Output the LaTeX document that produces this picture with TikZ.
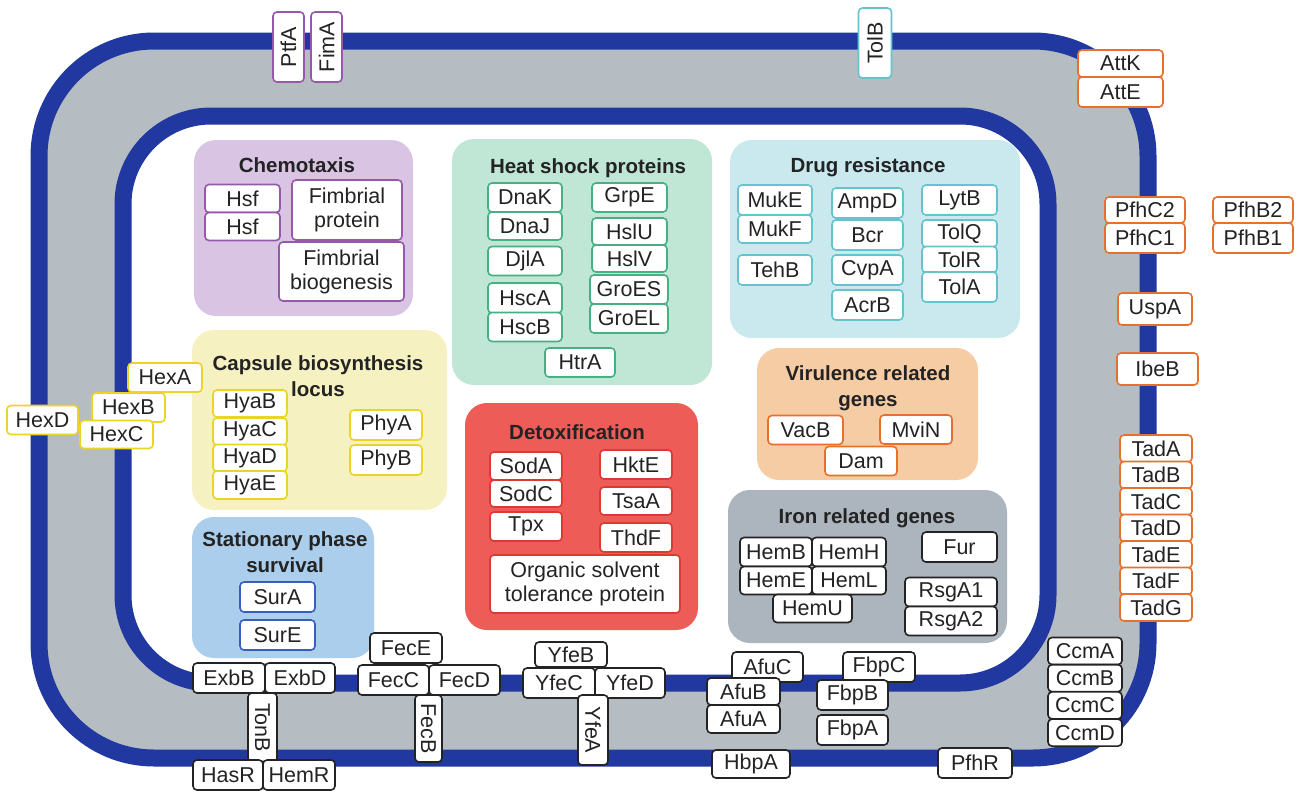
\documentclass[tikz,border=0pt]{standalone}
\usepackage{fontspec}
\setmainfont{Liberation Sans}
\usepackage{tikz}
\usetikzlibrary{positioning}
\definecolor{memb}{RGB}{33,56,160}
\definecolor{peri}{RGB}{182,189,194}
\definecolor{txt}{RGB}{35,35,35}
\definecolor{chemfill}{RGB}{218,196,228}
\definecolor{chemline}{RGB}{150,88,170}
\definecolor{heatfill}{RGB}{192,230,213}
\definecolor{heatline}{RGB}{72,175,132}
\definecolor{drugfill}{RGB}{202,233,239}
\definecolor{drugline}{RGB}{100,195,205}
\definecolor{capsfill}{RGB}{245,241,192}
\definecolor{capsline}{RGB}{235,212,35}
\definecolor{statfill}{RGB}{170,206,236}
\definecolor{statline}{RGB}{55,95,185}
\definecolor{detxfill}{RGB}{238,92,88}
\definecolor{detxline}{RGB}{218,58,52}
\definecolor{virufill}{RGB}{246,204,164}
\definecolor{viruline}{RGB}{232,112,45}
\definecolor{ironfill}{RGB}{172,180,190}
\definecolor{ironline}{RGB}{35,35,35}
\newcommand\genefont{\fontsize{21.5}{24}\selectfont}
\newcommand\ttlfont{\fontsize{20.5}{26}\selectfont\bfseries}
\tikzstyle{gene}=[draw, fill=white, rounded corners=4pt, line width=1.6pt,
		minimum width=72pt, minimum height=29pt, inner sep=0pt, align=center,
		font=\genefont, text=txt]
\tikzstyle{grp}=[rounded corners=22pt, inner sep=0pt]
\tikzstyle{ttl}=[font=\ttlfont, align=center, text=txt, inner sep=0pt]
\tikzstyle{chemg}=[gene, draw=chemline]
\tikzstyle{heatg}=[gene, draw=heatline]
\tikzstyle{drugg}=[gene, draw=drugline]
\tikzstyle{capsg}=[gene, draw=capsline]
\tikzstyle{statg}=[gene, draw=statline]
\tikzstyle{detxg}=[gene, draw=detxline]
\tikzstyle{virug}=[gene, draw=viruline]
\tikzstyle{irong}=[gene, draw=ironline]
\begin{document}
\begin{tikzpicture}[x=1pt, y=-1pt]
\useasboundingbox (0,0) rectangle (1303,793);
\filldraw[fill=peri, draw=memb, line width=17pt, rounded corners=115pt] (39,41) rectangle (1148,758);
\filldraw[fill=white, draw=memb, line width=17pt, rounded corners=88pt] (123,116) rectangle (1048,683);

\node[grp, fill=chemfill, minimum width=219pt, minimum height=176pt] (chemo) at (303.5,228) {};
\node[ttl] (chemottl) at (297,165) {Chemotaxis};
\node[chemg, minimum width=75pt, minimum height=28pt] (hsfa) at (242.5,198.5) {Hsf};
\node[chemg, minimum width=75pt, minimum height=28pt] (hsfb) at (242.5,226.5) {Hsf};
\node[chemg, minimum width=110pt, minimum height=60pt] (fimprot) at (347,210) {Fimbrial\\protein};
\node[chemg, minimum width=125pt, minimum height=59pt] (fimbio) at (341.5,271.5) {Fimbrial\\biogenesis};

\node[grp, fill=heatfill, minimum width=260pt, minimum height=246pt] (heat) at (582,262) {};
\node[ttl] (heatttl) at (588,168) {Heat shock proteins};
\node[heatg, minimum width=74pt] (dnak) at (525,197.5) {DnaK};
\node[heatg, minimum width=74pt, minimum height=28pt] (dnaj) at (525,226) {DnaJ};
\node[heatg, minimum width=74pt] (djla) at (525,261) {DjlA};
\node[heatg, minimum width=74pt, minimum height=30pt] (hsca) at (525,298) {HscA};
\node[heatg, minimum width=74pt] (hscb) at (525,327) {HscB};
\node[heatg, minimum width=75pt] (grpe) at (629.5,197.5) {GrpE};
\node[heatg, minimum width=75pt, minimum height=27pt] (hslu) at (629.5,231.5) {HslU};
\node[heatg, minimum width=75pt, minimum height=27pt] (hslv) at (629.5,258.5) {HslV};
\node[heatg, minimum width=78pt] (groes) at (629,289.5) {GroES};
\node[heatg, minimum width=78pt] (groel) at (629,318.5) {GroEL};
\node[heatg, minimum width=70pt] (htra) at (580,362.5) {HtrA};

\node[grp, fill=drugfill, minimum width=290pt, minimum height=198pt] (drug) at (875,239) {};
\node[ttl] (drugttl) at (868,167) {Drug resistance};
\node[drugg, minimum width=74pt, minimum height=30pt] (muke) at (775,200) {MukE};
\node[drugg, minimum width=74pt, minimum height=28pt] (mukf) at (775,229) {MukF};
\node[drugg, minimum width=74pt, minimum height=30pt] (tehb) at (775,270) {TehB};
\node[drugg, minimum width=71pt, minimum height=30pt] (ampd) at (867.5,203) {AmpD};
\node[drugg, minimum width=71pt, minimum height=30pt] (bcr) at (867.5,235) {Bcr};
\node[drugg, minimum width=71pt, minimum height=30pt] (cvpa) at (867.5,270) {CvpA};
\node[drugg, minimum width=71pt, minimum height=30pt] (acrb) at (867.5,305) {AcrB};
\node[drugg, minimum width=75pt, minimum height=30pt] (lytb) at (959.5,200) {LytB};
\node[drugg, minimum width=75pt, minimum height=27pt] (tolq) at (959.5,233.5) {TolQ};
\node[drugg, minimum width=75pt, minimum height=26pt] (tolr) at (959.5,259.5) {TolR};
\node[drugg, minimum width=75pt, minimum height=30pt] (tola) at (959.5,287) {TolA};

\node[grp, fill=capsfill, minimum width=255pt, minimum height=180pt] (caps) at (319.5,420) {};
\node[ttl] (capsttl) at (318,376.5) {Capsule biosynthesis\\locus};
\node[capsg, minimum width=74pt, minimum height=27pt] (hyab) at (250,403.5) {HyaB};
\node[capsg, minimum width=74pt, minimum height=27pt] (hyac) at (250,431.5) {HyaC};
\node[capsg, minimum width=74pt, minimum height=27pt] (hyad) at (250,458) {HyaD};
\node[capsg, minimum width=74pt, minimum height=28pt] (hyae) at (250,485) {HyaE};
\node[capsg, minimum height=30pt] (phya) at (386,425) {PhyA};
\node[capsg, minimum height=30pt] (phyb) at (386,460) {PhyB};
\node[capsg, minimum width=74pt] (hexa) at (165,377.5) {HexA};
\node[capsg, minimum width=73pt] (hexb) at (128.5,407.5) {HexB};
\node[capsg, minimum width=71pt] (hexd) at (42.5,420) {HexD};
\node[capsg, minimum width=73pt, minimum height=28pt] (hexc) at (116.5,434.5) {HexC};

\node[grp, fill=statfill, minimum width=182pt, minimum height=141pt] (stat) at (283,587.5) {};
\node[ttl] (statttl) at (285,552) {Stationary phase\\survival};
\node[statg, minimum width=75pt, minimum height=30pt] (sura) at (277.5,597) {SurA};
\node[statg, minimum width=75pt, minimum height=30pt] (sure) at (277.5,635) {SurE};

\node[grp, fill=detxfill, minimum width=233pt, minimum height=227pt] (detx) at (581.5,516.5) {};
\node[ttl] (detxttl) at (577,432) {Detoxification};
\node[detxg, minimum height=28pt] (soda) at (526,466) {SodA};
\node[detxg, minimum height=27pt] (sodc) at (526,493.5) {SodC};
\node[detxg] (tpx) at (526,526.5) {Tpx};
\node[detxg] (hkte) at (636,464.5) {HktE};
\node[detxg, minimum height=28pt] (tsaa) at (636,501) {TsaA};
\node[detxg] (thdf) at (636,537.5) {ThdF};
\node[detxg, minimum width=190pt, minimum height=58pt] (ostp) at (585,584) {Organic solvent\\tolerance protein};

\node[grp, fill=virufill, minimum width=221pt, minimum height=132pt] (viru) at (867.5,414) {};
\node[ttl] (viruttl) at (868,388.5) {Virulence related\\genes};
\node[virug, minimum width=75pt] (vacb) at (805.5,430) {VacB};
\node[virug] (mvin) at (916,429.5) {MviN};
\node[virug] (dam) at (861,461) {Dam};

\node[grp, fill=ironfill, minimum width=279pt, minimum height=153pt] (iron) at (867.5,566.5) {};
\node[ttl] (ironttl) at (867,518) {Iron related genes};
\node[irong] (hemb) at (776,552) {HemB};
\node[irong, minimum width=74pt] (hemh) at (849,552) {HemH};
\node[irong, minimum height=28pt] (heme) at (776,580.5) {HemE};
\node[irong, minimum width=74pt, minimum height=28pt] (heml) at (849,580.5) {HemL};
\node[irong, minimum width=79pt, minimum height=28pt] (hemu) at (812.5,608.5) {HemU};
\node[irong, minimum width=75pt, minimum height=30pt] (fur) at (959.5,547) {Fur};
\node[irong, minimum width=92pt] (rsga1) at (951,592) {RsgA1};
\node[irong, minimum width=92pt] (rsga2) at (951,621) {RsgA2};

\node[irong, minimum height=30pt] (exbb) at (229,678) {ExbB};
\node[irong, minimum width=70pt, minimum height=30pt] (exbd) at (300,678) {ExbD};
\node[irong, rotate=-90, minimum width=69pt, minimum height=29pt] (tonb) at (262.5,727.5) {TonB};
\node[irong, minimum width=70pt, minimum height=30pt] (hasr) at (228,775) {HasR};
\node[irong, minimum height=30pt] (hemr) at (299,775) {HemR};
\node[irong, minimum height=30pt] (fece) at (406,648) {FecE};
\node[irong, minimum width=71pt, minimum height=30pt] (fecc) at (393.5,680) {FecC};
\node[irong, minimum width=71pt, minimum height=30pt] (fecd) at (464.5,680) {FecD};
\node[irong, rotate=-90, minimum width=67pt, minimum height=27pt] (fecb) at (428.5,728.5) {FecB};
\node[irong, minimum height=25pt] (yfeb) at (571,654.5) {YfeB};
\node[irong, minimum height=30pt] (yfec) at (559,683) {YfeC};
\node[irong, minimum width=70pt, minimum height=30pt] (yfed) at (630,683) {YfeD};
\node[irong, rotate=-90, minimum width=70pt, minimum height=30pt] (yfea) at (593,730) {YfeA};
\node[irong, minimum width=71pt, minimum height=30pt] (afuc) at (767.5,667) {AfuC};
\node[irong, minimum width=73pt, minimum height=27pt] (afub) at (743.5,691.5) {AfuB};
\node[irong, minimum width=73pt, minimum height=28pt] (afua) at (743.5,719) {AfuA};
\node[irong, minimum height=30pt] (fbpc) at (879,667) {FbpC};
\node[irong, minimum width=71pt, minimum height=30pt] (fbpb) at (852.5,695) {FbpB};
\node[irong, minimum width=71pt, minimum height=30pt] (fbpa) at (852.5,730) {FbpA};
\node[irong, minimum width=78pt, minimum height=28pt] (hbpa) at (751,764) {HbpA};
\node[irong, minimum width=74pt, minimum height=30pt] (pfhr) at (975,763) {PfhR};
\foreach \g [count=\i] in {A,B,C,D}
	\node[irong, minimum width=74pt, minimum height=27pt] (ccm\g) at (1085,651+27.2*\i-27.2) {Ccm\g};

\node[virug, minimum width=85pt, minimum height=27pt] (attk) at (1120.5,63.5) {AttK};
\node[virug, minimum width=85pt, minimum height=30pt] (atte) at (1120.5,92) {AttE};
\node[virug, minimum width=80pt, minimum height=26pt] (pfhc2) at (1145,210) {PfhC2};
\node[virug, minimum width=80pt, minimum height=30pt] (pfhc1) at (1145,238) {PfhC1};
\node[virug, minimum width=80pt, minimum height=26pt] (pfhb2) at (1253,210) {PfhB2};
\node[virug, minimum width=80pt, minimum height=30pt] (pfhb1) at (1253,238) {PfhB1};
\node[virug, minimum width=74pt, minimum height=32pt] (uspa) at (1155,309) {UspA};
\node[virug, minimum width=81pt, minimum height=32pt] (ibeb) at (1157.5,369) {IbeB};
\foreach \g [count=\i] in {A,B,C,D,E,F,G}
	\node[virug, minimum height=27pt] (tad\g) at (1156,448.5+26.5*\i-26.5) {Tad\g};

\node[chemg, rotate=90, minimum width=70pt, minimum height=31pt] (ptfa) at (288.5,47) {PtfA};
\node[chemg, rotate=90, minimum width=70pt, minimum height=31pt] (fima) at (326.5,47) {FimA};
\node[drugg, rotate=90, minimum width=70pt, minimum height=33pt] (tolb) at (875,43) {TolB};
\end{tikzpicture}
\end{document}
